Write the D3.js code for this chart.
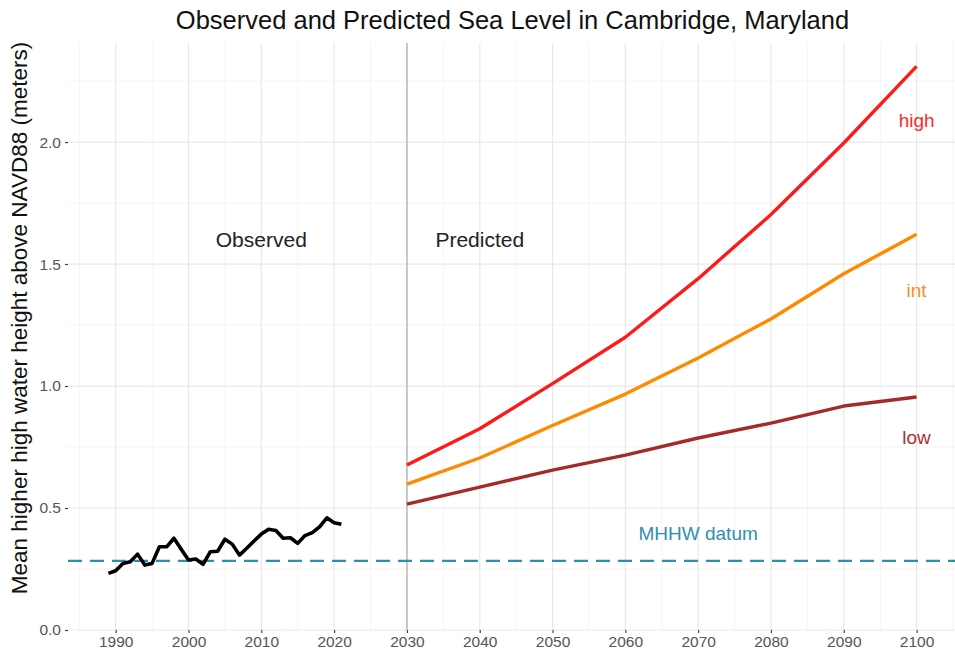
<!DOCTYPE html>
<html>
<head>
<meta charset="utf-8">
<script src="https://cdn.jsdelivr.net/npm/d3@7"></script>
<style>
  html, body { margin: 0; padding: 0; background: #fff; }
  svg { display: block; font-family: "Liberation Sans", Arial, Helvetica, sans-serif; }
</style>
</head>
<body>
<svg id="chart" width="955" height="658"></svg>
<script>
// ---- Data ----
const observedYears = [1989,1990,1991,1992,1993,1994,1995,1996,1997,1998,1999,2000,2001,2002,2003,2004,2005,2006,2007,2008,2009,2010,2011,2012,2013,2014,2015,2016,2017,2018,2019,2020,2021];
const observedValues = [0.232,0.243,0.273,0.280,0.311,0.266,0.273,0.341,0.341,0.376,0.331,0.287,0.291,0.269,0.321,0.323,0.372,0.352,0.307,0.335,0.365,0.393,0.413,0.408,0.376,0.378,0.355,0.387,0.399,0.423,0.460,0.440,0.433];

const predictedYears = [2030,2040,2050,2060,2070,2080,2090,2100];
const highValues = [0.676,0.825,1.010,1.200,1.440,1.703,1.996,2.310];
const intValues  = [0.598,0.705,0.838,0.967,1.115,1.275,1.460,1.622];
const lowValues  = [0.516,0.586,0.655,0.717,0.787,0.848,0.918,0.955];

const mhhwDatum = 0.283;

const xTicks = [1990,2000,2010,2020,2030,2040,2050,2060,2070,2080,2090,2100];
const yTicks = [0.0,0.5,1.0,1.5,2.0];
const xMinor = [1985,1995,2005,2015,2025,2035,2045,2055,2065,2075,2085,2095,2105];
const yMinor = [0.25,0.75,1.25,1.75,2.25];

const seriesNames = ["high","int","low"];
const seriesColors = {high:"#ff1a1a", int:"#ff8a00", low:"#a52a2a"};
const labelColors  = {high:"#ff2a2a", int:"#f5901e", low:"#b03030"};
const seriesLabelValues = {high:2.09, int:1.39, low:0.79};

// ---- Layout ----
const svg = d3.select("#chart");
const panel = {left: 68, right: 957, top: 43, bottom: 630};

const xDomainMin = 1983.45, xDomainMax = 2105.55;
const x = d3.scaleLinear().domain([xDomainMin, xDomainMax]).range([panel.left, panel.right]);
const y = d3.scaleLinear().domain([0, 2.406]).range([panel.bottom, panel.top]);

// Grid
const grid = svg.append("g");
grid.selectAll(".xminor").data(xMinor).enter().append("line")
  .attr("x1", d => x(d)).attr("x2", d => x(d))
  .attr("y1", panel.top).attr("y2", panel.bottom)
  .attr("stroke", "#f1f1f1").attr("stroke-width", 0.8);
grid.selectAll(".yminor").data(yMinor).enter().append("line")
  .attr("x1", panel.left).attr("x2", panel.right)
  .attr("y1", d => y(d)).attr("y2", d => y(d))
  .attr("stroke", "#f1f1f1").attr("stroke-width", 0.8);
grid.selectAll(".xmajor").data(xTicks).enter().append("line")
  .attr("x1", d => x(d)).attr("x2", d => x(d))
  .attr("y1", panel.top).attr("y2", panel.bottom)
  .attr("stroke", "#e8e8e8").attr("stroke-width", 1.2);
grid.selectAll(".ymajor").data(yTicks).enter().append("line")
  .attr("x1", panel.left).attr("x2", panel.right)
  .attr("y1", d => y(d)).attr("y2", d => y(d))
  .attr("stroke", "#e8e8e8").attr("stroke-width", 1.2);

// Axes
const xAxis = d3.axisBottom(x).tickValues(xTicks).tickFormat(d3.format("d")).tickSize(3).tickPadding(3);
const gx = svg.append("g").attr("transform", `translate(0,${panel.bottom})`).call(xAxis);
gx.select(".domain").remove();
gx.selectAll(".tick line").attr("stroke", "#444").attr("stroke-width", 1.2);
gx.selectAll(".tick text").attr("fill", "#555").attr("font-size", "15.5px");

const yAxis = d3.axisLeft(y).tickValues(yTicks).tickFormat(d3.format(".1f")).tickSize(3).tickPadding(4);
const gy = svg.append("g").attr("transform", `translate(${panel.left},0)`).call(yAxis);
gy.select(".domain").remove();
gy.selectAll(".tick line").attr("stroke", "#444").attr("stroke-width", 1.2);
gy.selectAll(".tick text").attr("fill", "#555").attr("font-size", "15.5px");

// Vertical divider at 2030
svg.append("line")
  .attr("x1", x(2030)).attr("x2", x(2030))
  .attr("y1", panel.top).attr("y2", panel.bottom)
  .attr("stroke", "#bdbdbd").attr("stroke-width", 1.6);

// MHHW dashed line
svg.append("line")
  .attr("x1", panel.left).attr("x2", panel.right)
  .attr("y1", y(mhhwDatum)).attr("y2", y(mhhwDatum))
  .attr("stroke", "#2f8fae").attr("stroke-width", 2.2)
  .attr("stroke-dasharray", "14,8");

// Observed line
const lineGen = d3.line().x(d => x(d[0])).y(d => y(d[1]));
svg.append("path")
  .datum(observedYears.map((yr, i) => [yr, observedValues[i]]))
  .attr("d", lineGen)
  .attr("fill", "none").attr("stroke", "#000").attr("stroke-width", 3.6)
  .attr("stroke-linejoin", "round").attr("stroke-linecap", "butt");

// Predicted lines
const seriesData = {high: highValues, int: intValues, low: lowValues};
seriesNames.slice().reverse().forEach(name => {
  svg.append("path")
    .datum(predictedYears.map((yr, i) => [yr, seriesData[name][i]]))
    .attr("d", lineGen)
    .attr("fill", "none").attr("stroke", seriesColors[name]).attr("stroke-width", 3.4)
    .attr("stroke-linejoin", "round");
});

// Series labels
seriesNames.forEach(name => {
  svg.append("text")
    .attr("x", x(2100)).attr("y", y(seriesLabelValues[name]))
    .attr("text-anchor", "middle").attr("dominant-baseline", "central")
    .attr("fill", labelColors[name]).attr("font-size", "19px")
    .text(name);
});

// Annotations
svg.append("text").attr("x", x(2010)).attr("y", y(1.6))
  .attr("text-anchor", "middle").attr("dominant-baseline", "central")
  .attr("fill", "#222").attr("font-size", "21px").text("Observed");
svg.append("text").attr("x", x(2040)).attr("y", y(1.6))
  .attr("text-anchor", "middle").attr("dominant-baseline", "central")
  .attr("fill", "#222").attr("font-size", "21px").text("Predicted");
svg.append("text").attr("x", x(2070)).attr("y", y(0.395))
  .attr("text-anchor", "middle").attr("dominant-baseline", "central")
  .attr("fill", "#2f8fae").attr("font-size", "19px").text("MHHW datum");

// Title
svg.append("text").attr("x", (panel.left + panel.right) / 2).attr("y", 29)
  .attr("text-anchor", "middle").attr("fill", "#111").attr("font-size", "25.5px")
  .text("Observed and Predicted Sea Level in Cambridge, Maryland");

// Y axis title
svg.append("text")
  .attr("transform", `translate(19,318) rotate(-90)`)
  .attr("text-anchor", "middle").attr("dominant-baseline", "central")
  .attr("fill", "#111").attr("font-size", "22.5px")
  .text("Mean higher high water height above NAVD88 (meters)");
</script>
</body>
</html>
